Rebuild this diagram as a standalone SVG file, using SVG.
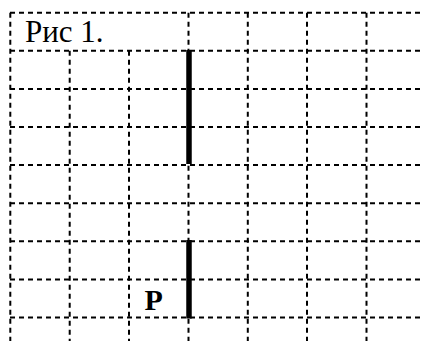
<svg xmlns="http://www.w3.org/2000/svg" width="424" height="341" viewBox="0 0 424 341">
<style>
.g{stroke:#000;stroke-width:2;stroke-dasharray:5,4;fill:none}
.t{stroke:#000;stroke-width:5.5;fill:none}
</style>
<rect width="424" height="341" fill="#fff"/>
<g id="grid">
<line class="g" x1="10" y1="12.7" x2="424" y2="12.7"/>
<line class="g" x1="10" y1="50.8" x2="424" y2="50.8"/>
<line class="g" x1="10" y1="88.9" x2="424" y2="88.9"/>
<line class="g" x1="10" y1="127" x2="424" y2="127"/>
<line class="g" x1="10" y1="165.1" x2="424" y2="165.1"/>
<line class="g" x1="10" y1="203.2" x2="424" y2="203.2"/>
<line class="g" x1="10" y1="241.3" x2="424" y2="241.3"/>
<line class="g" x1="10" y1="279.4" x2="424" y2="279.4"/>
<line class="g" x1="10" y1="317.5" x2="424" y2="317.5"/>
<line class="g" x1="10.3" y1="12.7" x2="10.3" y2="341"/>
<line class="g" x1="69.7" y1="50.8" x2="69.7" y2="341"/>
<line class="g" x1="129" y1="50.8" x2="129" y2="341"/>
<line class="g" x1="188.5" y1="12.7" x2="188.5" y2="341"/>
<line class="g" x1="247.8" y1="12.7" x2="247.8" y2="341"/>
<line class="g" x1="307" y1="12.7" x2="307" y2="341"/>
<line class="g" x1="366.5" y1="12.7" x2="366.5" y2="341"/>
</g>
<g id="connectors">
<line id="bar1" class="t" x1="189" y1="50" x2="189" y2="164"/>
<line id="bar2" class="t" x1="189" y1="240" x2="189" y2="318.5"/>
</g>
<g id="caption"><text font-family="'Times New Roman', 'Liberation Serif', 'DejaVu Serif', serif" x="25" y="41.5" font-size="31" fill="#000">Рис 1.</text></g>
<g id="pointP"><text font-family="'Times New Roman', 'Liberation Serif', 'DejaVu Serif', serif" x="144.5" y="310" font-size="30" font-weight="bold" fill="#000">P</text></g>
</svg>
